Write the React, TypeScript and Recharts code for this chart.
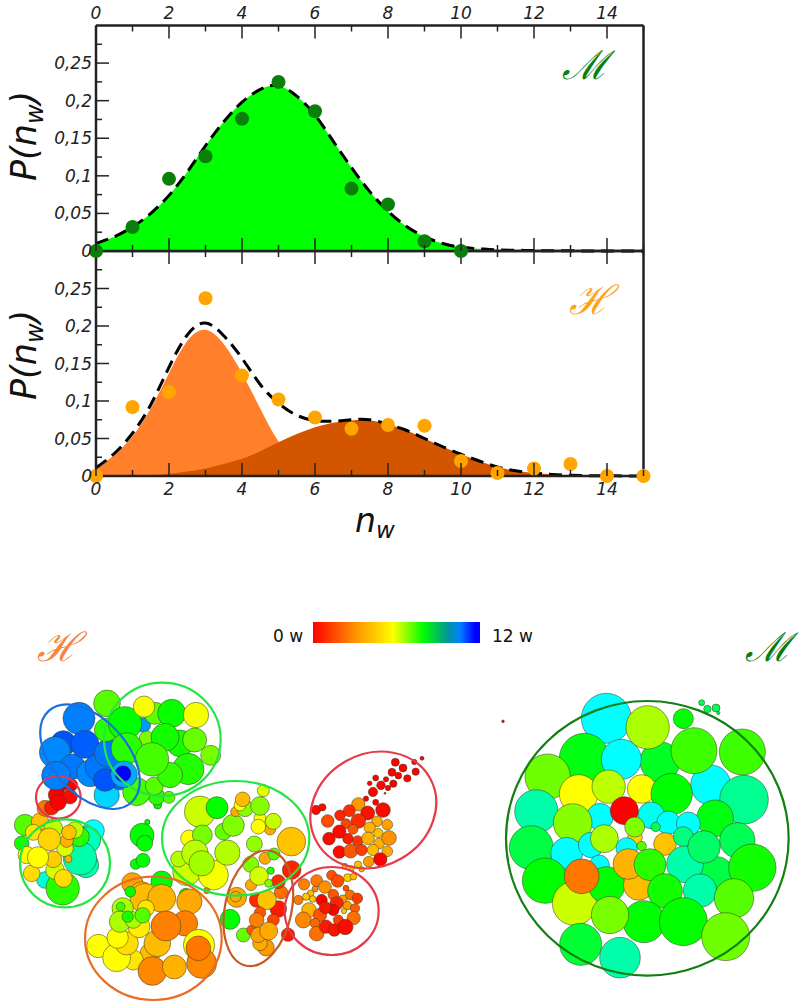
import {
  Area,
  Bar,
  BarChart,
  ComposedChart,
  Line,
  Scatter,
  ScatterChart,
  XAxis,
  YAxis,
} from "recharts";

const FONT = "DejaVu Sans";
const AXIS = "#222";

// n_w grid of the fitted curves
const curveN = [
  0, 0.5, 1, 1.5, 2, 2.5, 3, 3.5, 4, 4.5, 5, 5.5, 6, 6.5, 7, 7.5, 8, 8.5, 9,
  9.5, 10, 10.5, 11, 11.5, 12, 12.5, 13, 13.5, 14, 14.5, 15,
];
const mFit = [
  0.01, 0.019, 0.032, 0.05, 0.074, 0.105, 0.14, 0.172, 0.198, 0.215, 0.22,
  0.206, 0.181, 0.146, 0.111, 0.079, 0.053, 0.033, 0.019, 0.01, 0.005, 0.003,
  0.0015, 0.001, 0.0005, 0.0003, 0.0002, 0.0001, 0.0001, 0, 0,
];
const hFit = [
  0.011, 0.03, 0.057, 0.095, 0.145, 0.188, 0.204, 0.187, 0.157, 0.122, 0.097,
  0.081, 0.074, 0.073, 0.075, 0.075, 0.069, 0.061, 0.05, 0.039, 0.029, 0.02,
  0.012, 0.007, 0.004, 0.002, 0.001, 0.0005, 0.0003, 0.0001, 0,
];
const hFirst = [
  0.01, 0.028, 0.053, 0.09, 0.137, 0.18, 0.195, 0.176, 0.137, 0.09, 0.046, 0.02,
  0.007, 0.002, 0.0005, 0, 0, 0, 0, 0, 0, 0, 0, 0, 0, 0, 0, 0, 0, 0, 0,
];
const hSecond = [
  0, 0.0002, 0.0005, 0.001, 0.003, 0.006, 0.01, 0.016, 0.023, 0.033, 0.045,
  0.056, 0.065, 0.071, 0.074, 0.074, 0.069, 0.061, 0.05, 0.039, 0.029, 0.02,
  0.012, 0.007, 0.004, 0.002, 0.001, 0.0005, 0.0003, 0.0001, 0,
];

// measured points
const mMeasured = [0, 0.032, 0.096, 0.126, 0.176, 0.225, 0.186, 0.083, 0.062, 0.013, 0];
const hMeasured = [
  0, 0.092, 0.112, 0.237, 0.134, 0.102, 0.078, 0.063, 0.068, 0.067, 0.02, 0.004,
  0.01, 0.016, 0, 0,
];

const nTicks = [0, 1, 2, 3, 4, 5, 6, 7, 8, 9, 10, 11, 12, 13, 14, 15];
const pTicks = [
  0, 0.025, 0.05, 0.075, 0.1, 0.125, 0.15, 0.175, 0.2, 0.225, 0.25, 0.275,
];

const mCurves = curveN.map((n, i) => ({ n, fit: mFit[i] }));
const hCurves = curveN.map((n, i) => ({
  n,
  fit: hFit[i],
  first: hFirst[i],
  second: hSecond[i],
}));
const mPoints = mMeasured.map((p, n) => ({ n, p }));
const hPoints = hMeasured.map((p, n) => ({ n, p }));

// droplets: [x, y, radius, water molecules], map units are 1/3 px
type Row = number[];

const blueBack: Row[] = [
  [430, 315, 22, 10.2],
  [237, 295, 48, 10.5],
  [190, 370, 38, 11],
  [165, 397, 47, 10.4],
  [218, 440, 38, 10.6],
  [168, 467, 43, 10.5],
  [270, 460, 40, 10.4],
  [300, 440, 45, 10.6],
  [255, 373, 42, 10.9],
  [325, 400, 42, 10.6],
  [320, 525, 38, 9.5],
  [360, 480, 30, 10.8],
  [315, 480, 34, 11],
];
const greenTop: Row[] = [
  [321, 250, 40, 5],
  [318, 330, 35, 5.5],
  [375, 310, 50, 6],
  [465, 280, 33, 4.9],
  [432, 260, 32, 3.1],
  [515, 280, 42, 5.9],
  [588, 285, 38, 3.1],
  [540, 370, 40, 5.8],
  [440, 355, 22, 4.6],
  [380, 385, 47, 5.5],
  [495, 352, 42, 5.8],
  [584, 360, 36, 4.8],
  [632, 406, 30, 4.6],
  [565, 447, 47, 5.6],
  [473, 555, 12, 6],
  [470, 530, 25, 5.5],
  [410, 515, 42, 5.2],
  [463, 498, 27, 5],
  [507, 532, 18, 5],
  [510, 465, 38, 5.4],
  [456, 418, 50, 5.2],
  [372, 463, 40, 10],
  [369, 461, 24, 12],
];
const redSmall: Row[] = [
  [135, 565, 24, 1.4],
  [155, 563, 22, 0.3],
  [170, 525, 25, 0],
  [215, 495, 18, 0],
  [210, 530, 22, 0.1],
  [190, 500, 12, 0],
  [180, 503, 12, 0],
  [175, 547, 24, 0],
];
const leftCluster: Row[] = [
  [280, 92, 33, 9],
  [262, 120, 40, 8.2],
  [258, 195, 38, 8],
  [240, 175, 50, 8],
  [135, 240, 25, 8.5],
  [188, 265, 50, 5.5],
  [65, 130, 22, 5.8],
  [75, 75, 32, 5],
  [238, 110, 30, 5.5],
  [120, 65, 26, 2.3],
  [160, 85, 28, 3.8],
  [100, 97, 24, 2.7],
  [225, 90, 25, 3.8],
  [195, 145, 25, 3.4],
  [200, 122, 20, 2.1],
  [207, 97, 22, 2.3],
  [80, 165, 26, 3],
  [165, 210, 28, 3.5],
  [160, 178, 25, 2.4],
  [95, 220, 25, 2.6],
  [148, 118, 34, 2.5],
  [114, 172, 32, 3],
  [205, 177, 11, 2.1],
  [190, 235, 27, 2.6],
];
const middleGreen: Row[] = [
  [232, 126, 8, 6],
  [216, 166, 36, 6],
  [224, 190, 24, 6],
  [197, 252, 16, 6],
  [219, 241, 21, 6],
];
const orangeCluster: Row[] = [
  [187, 310, 32, 1.9],
  [275, 305, 32, 6],
  [347, 345, 20, 6],
  [215, 340, 35, 2.2],
  [225, 355, 45, 2.2],
  [275, 355, 42, 2.1],
  [358, 365, 38, 2],
  [181, 335, 16, 6],
  [228, 385, 25, 2.7],
  [240, 520, 30, 2.2],
  [85, 498, 35, 3],
  [190, 540, 30, 2.7],
  [140, 533, 42, 3],
  [170, 490, 35, 2.6],
  [143, 473, 32, 3],
  [207, 440, 33, 2.8],
  [158, 385, 32, 4],
  [150, 425, 32, 4],
  [190, 420, 25, 4],
  [152, 380, 13, 5.3],
  [173, 410, 17, 5.7],
  [218, 406, 23, 5],
  [262, 490, 40, 2.2],
  [247, 573, 43, 1.6],
  [313, 561, 36, 2.1],
  [345, 430, 38, 1.5],
  [288, 438, 45, 1.5],
  [387, 495, 47, 3],
  [395, 550, 45, 1.6],
  [385, 505, 37, 1.4],
];
const limeCluster: Row[] = [
  [390, 95, 47, 3.6],
  [441, 83, 33, 6],
  [357, 175, 25, 3],
  [397, 165, 30, 4.6],
  [350, 275, 42, 3.6],
  [430, 285, 45, 3.1],
  [326, 237, 24, 3.9],
  [472, 218, 38, 3.9],
  [375, 220, 40, 3.8],
  [395, 250, 38, 4.1],
  [460, 155, 25, 4.8],
  [490, 136, 33, 4.5],
  [497, 95, 15, 2],
  [525, 85, 25, 4.4],
  [510, 75, 18, 3],
  [518, 58, 22, 2.2],
  [580, 32, 18, 3.4],
  [570, 115, 18, 3],
  [570, 78, 28, 4.4],
  [600, 148, 17, 2],
  [565, 140, 22, 3],
  [610, 124, 24, 3.7],
  [553, 192, 24, 4.3],
  [664, 185, 43, 2.3],
];
const brownCluster: Row[] = [
  [410, 332, 9, 1.5],
  [500, 352, 30, 2],
  [497, 350, 16, 2],
  [542, 253, 24, 4.5],
  [585, 235, 18, 2],
  [612, 222, 18, 5],
  [665, 270, 28, 0.4],
  [633, 337, 20, 1.3],
  [543, 315, 17, 2],
  [625, 305, 21, 0.5],
  [567, 288, 28, 3.5],
  [602, 272, 11, 5.5],
  [596, 310, 12, 4.5],
  [480, 418, 30, 6],
  [520, 465, 21, 4.8],
  [560, 360, 22, 0.5],
  [625, 387, 25, 0.3],
  [590, 360, 29, 2.3],
  [610, 420, 18, 0.8],
  [570, 398, 17, 1],
  [545, 450, 15, 1],
  [560, 420, 22, 1.5],
  [588, 503, 25, 1.8],
  [570, 490, 22, 2],
  [565, 465, 23, 1.9],
  [596, 453, 27, 2],
  [654, 464, 20, 0.3],
];
const redUpper: Row[] = [
  [606, 55, 6, 0],
  [583, 66, 8, 0],
  [526, 67, 12, 0],
  [549, 84, 12, 0],
  [587, 95, 11, 0],
  [516, 97, 12, 0],
  [535, 107, 10, 0],
  [562, 115, 11, 0],
  [467, 114, 9, 0],
  [498, 118, 8, 0],
  [520, 131, 11, 0],
  [449, 130, 7, 0],
  [483, 136, 13, 0],
  [504, 144, 8, 0],
  [459, 156, 14, 0],
  [495, 160, 3, 0],
  [438, 176, 8, 0],
  [467, 187, 9, 0],
  [415, 193, 20, 1.8],
  [288, 210, 14, 0.1],
  [307, 202, 11, 0.1],
  [323, 243, 19, 0.9],
  [360, 226, 16, 0.4],
  [388, 212, 18, 0.5],
  [443, 219, 21, 0.2],
  [489, 210, 22, 0.1],
  [415, 243, 22, 0.5],
  [378, 251, 15, 0.8],
  [358, 275, 20, 0.1],
  [399, 268, 15, 1],
  [471, 244, 16, 2],
  [502, 254, 16, 1.9],
  [449, 263, 17, 2.1],
  [475, 279, 14, 2.3],
  [327, 296, 19, 0.1],
  [384, 296, 16, 0.3],
  [413, 303, 16, 0.6],
  [477, 311, 16, 2.1],
  [444, 295, 19, 2.1],
  [507, 294, 22, 1.7],
  [358, 336, 19, 0.1],
  [392, 333, 21, 1],
  [425, 330, 17, 0.7],
  [459, 330, 17, 2.2],
  [502, 334, 16, 2],
  [446, 365, 16, 1.8],
  [481, 358, 20, 0],
  [414, 374, 11, 2.3],
  [375, 378, 8, 2.2],
  [395, 385, 8, 2.2],
  [425, 388, 8, 2.2],
  [383, 413, 12, 2.4],
  [400, 410, 10, 2.2],
];
const redLower: Row[] = [
  [335, 406, 15, 1],
  [353, 423, 19, 0.9],
  [290, 422, 18, 1.4],
  [252, 433, 17, 1.5],
  [285, 447, 9, 1.6],
  [315, 441, 19, 1.7],
  [378, 445, 9, 1],
  [340, 464, 16, 1],
  [390, 465, 15, 1.3],
  [412, 475, 16, 0.7],
  [368, 478, 13, 1.8],
  [272, 460, 10, 2.2],
  [258, 470, 11, 2.3],
  [278, 477, 10, 2.3],
  [235, 480, 14, 1.4],
  [305, 480, 17, 0],
  [350, 490, 20, 0.4],
  [267, 510, 22, 2.1],
  [250, 540, 24, 1.6],
  [300, 525, 20, 1],
  [285, 550, 15, 1.2],
  [382, 497, 13, 1.8],
  [405, 505, 14, 1.1],
  [340, 510, 17, 0],
  [316, 503, 18, 0.2],
  [372, 513, 8, 2.3],
  [401, 534, 20, 1.3],
  [355, 540, 15, 0.7],
  [290, 581, 22, 1.3],
  [318, 560, 20, 0.3],
  [343, 570, 19, 0.2],
  [376, 561, 23, 0.1],
];
const mDroplets: Row[] = [
  [39, 304, 4, 0],
  [635, 248, 9, 7],
  [652, 267, 11, 7],
  [678, 264, 12, 7],
  [685, 279, 5, 7],
  [349, 295, 75, 9],
  [510, 425, 60, 6.4],
  [283, 415, 75, 6.2],
  [394, 418, 60, 9],
  [473, 322, 65, 4],
  [580, 296, 30, 6],
  [662, 495, 60, 9],
  [612, 392, 69, 5.3],
  [757, 396, 69, 5.3],
  [173, 470, 68, 4.7],
  [266, 522, 58, 3],
  [356, 500, 50, 3.8],
  [455, 507, 43, 3],
  [545, 522, 62, 6],
  [762, 539, 73, 7.7],
  [675, 595, 55, 6.2],
  [139, 574, 65, 8],
  [330, 590, 40, 9],
  [248, 609, 58, 4.4],
  [484, 586, 40, 8.8],
  [535, 608, 35, 9],
  [403, 572, 42, 0],
  [595, 612, 36, 9],
  [497, 621, 14, 7],
  [435, 652, 22, 2.5],
  [434, 621, 30, 4.5],
  [124, 683, 66, 6.8],
  [230, 700, 48, 9],
  [303, 675, 38, 9],
  [343, 656, 42, 4],
  [410, 685, 32, 9],
  [455, 678, 14, 5],
  [525, 672, 34, 2.3],
  [580, 650, 30, 7.5],
  [742, 661, 53, 7],
  [680, 760, 50, 6.8],
  [585, 733, 55, 8],
  [642, 681, 49, 7.2],
  [787, 743, 71, 5.8],
  [328, 735, 30, 9],
  [165, 782, 68, 6],
  [253, 850, 66, 3.6],
  [350, 795, 55, 6],
  [275, 769, 52, 1.4],
  [446, 795, 46, 2.2],
  [415, 732, 46, 2.1],
  [480, 734, 48, 5.5],
  [630, 812, 50, 8],
  [525, 813, 52, 5.8],
  [732, 835, 59, 5],
  [462, 905, 63, 6],
  [360, 885, 56, 4.6],
  [580, 905, 72, 6],
  [707, 950, 72, 4.7],
  [272, 973, 63, 6.6],
  [390, 1013, 61, 8],
];

// cluster outlines: [x, y, rx, ry, tilt]
const hBlueRing: Row[] = [[270, 410, 185, 112, 48]];
const hGreenRings: Row[] = [
  [487, 358, 175, 170, 0],
  [195, 730, 135, 132, 0],
  [707, 655, 221, 172, 0],
];
const hRedRings: Row[] = [
  [175, 532, 67, 64, 0],
  [1120, 570, 195, 168, -30],
  [995, 873, 141, 132, 0],
];
const hOrangeRing: Row[] = [[460, 955, 205, 185, 0]];
const hBrownRing: Row[] = [[775, 865, 100, 176, 12]];
const mRing: Row[] = [[472, 655, 424, 412, 0]];

const colorbarRow = [{ name: "w", w: 12 }];

const drops = (rows: Row[], dx = 0, dy = 0) =>
  rows.map(([x, y, r, w]) => ({ x: x + dx, y: y + dy, r, w }));
const rings = (rows: Row[]) =>
  rows.map(([x, y, rx, ry, tilt]) => ({ x, y, rx, ry, tilt }));

// hue runs from red (0 w) to blue (12 w)
const wColor = (w: number) => `hsl(${w * 20}, 100%, 50%)`;

const Droplet = (p: any) => (
  <circle
    cx={p.cx}
    cy={p.cy}
    r={p.payload.r / 3}
    fill={wColor(p.payload.w)}
    stroke="#3a3a20"
    strokeOpacity={0.65}
    strokeWidth={0.8}
  />
);

const ringShape = (color: string) => (p: any) => (
  <ellipse
    cx={p.cx}
    cy={p.cy}
    rx={p.payload.rx / 3}
    ry={p.payload.ry / 3}
    fill="none"
    stroke={color}
    strokeWidth={2.2}
    transform={`rotate(${p.payload.tilt} ${p.cx} ${p.cy})`}
  />
);

// ticks point into the panel, dir says which way
const xTick = (dir: number, labelDy?: number) => (p: any) => {
  const major = p.payload.value % 2 === 0;
  return (
    <g>
      <path
        d={`M${p.x} ${p.y}v${dir * (major ? 13 : 6)}`}
        fill="none"
        stroke={AXIS}
        strokeWidth={1.5}
      />
      {major && labelDy !== undefined && (
        <text
          x={p.x}
          y={p.y + labelDy}
          textAnchor="middle"
          fontFamily={FONT}
          fontStyle="italic"
          fontSize={17}
          fill="#222"
        >
          {p.payload.value}
        </text>
      )}
    </g>
  );
};

const yTick = (dir: number, labelled: boolean) => (p: any) => {
  const major = Math.round(p.payload.value * 1000) % 50 === 0;
  return (
    <g>
      {p.payload.value > 0 && (
        <path
          d={`M${p.x} ${p.y}h${dir * (major ? 13 : 6)}`}
          fill="none"
          stroke={AXIS}
          strokeWidth={1.5}
        />
      )}
      {major && labelled && (
        <text
          x={p.x - 4}
          y={p.y + 6}
          textAnchor="end"
          fontFamily={FONT}
          fontStyle="italic"
          fontSize={17}
          fill="#222"
        >
          {String(p.payload.value).replace(".", ",")}
        </text>
      )}
    </g>
  );
};

function panelAxes(topLabels: boolean, bottomLabels: boolean) {
  const line = { stroke: AXIS, strokeWidth: 2.5 };
  return (
    <>
      <XAxis
        xAxisId="bottom"
        dataKey="n"
        type="number"
        domain={[0, 15]}
        ticks={nTicks}
        interval={0}
        height={1}
        tickSize={0}
        tickMargin={0}
        tickLine={false}
        axisLine={line}
        tick={xTick(-1, bottomLabels ? 19 : undefined)}
      />
      <XAxis
        xAxisId="top"
        orientation="top"
        dataKey="n"
        type="number"
        domain={[0, 15]}
        ticks={nTicks}
        interval={0}
        height={1}
        tickSize={0}
        tickMargin={0}
        tickLine={false}
        axisLine={line}
        tick={xTick(1, topLabels ? -7 : undefined)}
      />
      <YAxis
        yAxisId="left"
        type="number"
        domain={[0, 0.3]}
        ticks={pTicks}
        interval={0}
        width={1}
        tickSize={0}
        tickMargin={0}
        tickLine={false}
        axisLine={line}
        tick={yTick(1, true)}
      />
      <YAxis
        yAxisId="right"
        orientation="right"
        type="number"
        domain={[0, 0.3]}
        ticks={pTicks}
        interval={0}
        width={1}
        tickSize={0}
        tickMargin={0}
        tickLine={false}
        axisLine={line}
        tick={yTick(-1, false)}
      />
    </>
  );
}

const PLabel = ({ y }: { y: number }) => (
  <text
    transform={`translate(36 ${y}) rotate(-90)`}
    fontFamily={FONT}
    fontStyle="italic"
    fontSize={35}
    fill="#111"
  >
    P(n
    <tspan fontSize={24} dy={7}>
      w
    </tspan>
    <tspan dy={-7}>)</tspan>
  </text>
);

const ScriptLetter = ({ x, y, color, children }: any) => (
  <text
    x={x}
    y={y}
    fontFamily="DejaVu Serif"
    fontStyle="italic"
    fontSize={40}
    fill={color}
    textAnchor="middle"
  >
    {children}
  </text>
);

const abs = (left: number, top: number) =>
  ({ position: "absolute", left, top } as const);

export default function App() {
  const bothAxes = { xAxisId: "bottom", yAxisId: "left" };
  return (
    <div
      style={{
        position: "absolute",
        left: 0,
        top: 0,
        width: 800,
        height: 1007,
        background: "#fff",
        overflow: "hidden",
      }}
    >
      {/* Lower panel first, the upper one sits over it */}
      <div style={abs(0, 230)}>
        <ComposedChart
          width={800}
          height={320}
          data={hCurves}
          margin={{ top: 20, bottom: 73, left: 95, right: 155.5 }}
        >
          <Area
            {...bothAxes}
            dataKey="first"
            type="natural"
            fill="#ff7f2a"
            fillOpacity={1}
            stroke="none"
            isAnimationActive={false}
          />
          <Area
            {...bothAxes}
            dataKey="second"
            type="natural"
            fill="#d45500"
            fillOpacity={1}
            stroke="none"
            isAnimationActive={false}
          />
          {panelAxes(false, true)}
          <Line
            {...bothAxes}
            dataKey="fit"
            type="natural"
            stroke="#000"
            strokeWidth={3}
            strokeDasharray="13 7"
            dot={false}
            isAnimationActive={false}
          />
          <Scatter
            {...bothAxes}
            data={hPoints}
            dataKey="p"
            shape={(p: any) => <circle cx={p.cx} cy={p.cy} r={7} fill="#ffa500" />}
            isAnimationActive={false}
          />
          <PLabel y={170} />
          <text
            x={355}
            y={302}
            fontFamily={FONT}
            fontStyle="italic"
            fontSize={33}
            fill="#111"
          >
            n
            <tspan fontSize={23} dy={6}>
              w
            </tspan>
          </text>
          <ScriptLetter x={590} y={84} color="#ffa31a">
            ℋ
          </ScriptLetter>
        </ComposedChart>
      </div>

      <div style={abs(0, 0)}>
        <ComposedChart
          width={800}
          height={270}
          data={mCurves}
          margin={{ top: 24.5, bottom: 18, left: 95, right: 155.5 }}
        >
          <Area
            {...bothAxes}
            dataKey="fit"
            type="natural"
            fill="#00ff00"
            fillOpacity={1}
            stroke="none"
            isAnimationActive={false}
          />
          {panelAxes(true, false)}
          <Line
            {...bothAxes}
            dataKey="fit"
            type="natural"
            stroke="#000"
            strokeWidth={3}
            strokeDasharray="13 7"
            dot={false}
            isAnimationActive={false}
          />
          <Scatter
            {...bothAxes}
            data={mPoints}
            dataKey="p"
            shape={(p: any) => <circle cx={p.cx} cy={p.cy} r={7} fill="#0a800a" />}
            isAnimationActive={false}
          />
          <PLabel y={181} />
          <ScriptLetter x={585} y={79} color="#0a800a">
            ℳ
          </ScriptLetter>
        </ComposedChart>
      </div>

      {/* Colour bar */}
      <div style={abs(313, 622)}>
        <BarChart
          width={167}
          height={21}
          layout="vertical"
          data={colorbarRow}
          barCategoryGap={0}
          margin={{ top: 0, bottom: 0, left: 0, right: 0 }}
        >
          <defs>
            <linearGradient id="wetness" x1="0" x2="1" y1="0" y2="0">
              <stop offset="0" stopColor="#ff0000" />
              <stop offset="0.25" stopColor="#ff9000" />
              <stop offset="0.48" stopColor="#ffff00" />
              <stop offset="0.66" stopColor="#00ff00" />
              <stop offset="0.8" stopColor="#009a90" />
              <stop offset="0.88" stopColor="#0080ff" />
              <stop offset="0.97" stopColor="#0000ff" />
            </linearGradient>
          </defs>
          <XAxis type="number" domain={[0, 12]} hide />
          <YAxis type="category" dataKey="name" hide />
          <Bar dataKey="w" fill="url(#wetness)" isAnimationActive={false} />
        </BarChart>
      </div>
      <svg width={800} height={30} style={abs(0, 620)}>
        <text x={273} y={22} fontFamily={FONT} fontSize={17} fill="#111">
          0 w
        </text>
        <text x={492} y={22} fontFamily={FONT} fontSize={17} fill="#111">
          12 w
        </text>
      </svg>

      {/* H droplets */}
      <div style={abs(0, 620)}>
        <ScatterChart width={480} height={387} margin={{ top: 0, bottom: 0, left: 0, right: 0 }}>
          <XAxis dataKey="x" type="number" domain={[0, 1440]} hide />
          <YAxis dataKey="y" type="number" domain={[0, 1161]} reversed hide />
          <Scatter data={drops(limeCluster, 210, 480)} shape={Droplet} isAnimationActive={false} />
          <Scatter data={drops(brownCluster, 210, 480)} shape={Droplet} isAnimationActive={false} />
          <Scatter data={drops(orangeCluster, 210, 480)} shape={Droplet} isAnimationActive={false} />
          <Scatter data={drops(middleGreen, 210, 480)} shape={Droplet} isAnimationActive={false} />
          <Scatter data={drops(redLower, 660, 360)} shape={Droplet} isAnimationActive={false} />
          <Scatter data={drops(redUpper, 660, 360)} shape={Droplet} isAnimationActive={false} />
          <Scatter data={drops(leftCluster, 0, 540)} shape={Droplet} isAnimationActive={false} />
          <Scatter data={drops(redSmall)} shape={Droplet} isAnimationActive={false} />
          <Scatter data={drops(blueBack)} shape={Droplet} isAnimationActive={false} />
          <Scatter data={drops(greenTop)} shape={Droplet} isAnimationActive={false} />
          <Scatter data={rings(hBrownRing)} shape={ringShape("#c55a22")} isAnimationActive={false} />
          <Scatter data={rings(hOrangeRing)} shape={ringShape("#ea6d24")} isAnimationActive={false} />
          <Scatter data={rings(hRedRings)} shape={ringShape("#e63a48")} isAnimationActive={false} />
          <Scatter data={rings(hGreenRings)} shape={ringShape("#22e644")} isAnimationActive={false} />
          <Scatter data={rings(hBlueRing)} shape={ringShape("#1a6fe0")} isAnimationActive={false} />
          <ScriptLetter x={58} y={41} color="#f5853f">
            ℋ
          </ScriptLetter>
        </ScatterChart>
      </div>

      {/* M droplets */}
      <div style={abs(490, 620)}>
        <ScatterChart width={310} height={370} margin={{ top: 0, bottom: 0, left: 0, right: 0 }}>
          <XAxis dataKey="x" type="number" domain={[0, 930]} hide />
          <YAxis dataKey="y" type="number" domain={[0, 1110]} reversed hide />
          <Scatter data={drops(mDroplets)} shape={Droplet} isAnimationActive={false} />
          <Scatter data={rings(mRing)} shape={ringShape("#118011")} isAnimationActive={false} />
          <ScriptLetter x={278} y={41} color="#0a7a12">
            ℳ
          </ScriptLetter>
        </ScatterChart>
      </div>
    </div>
  );
}
